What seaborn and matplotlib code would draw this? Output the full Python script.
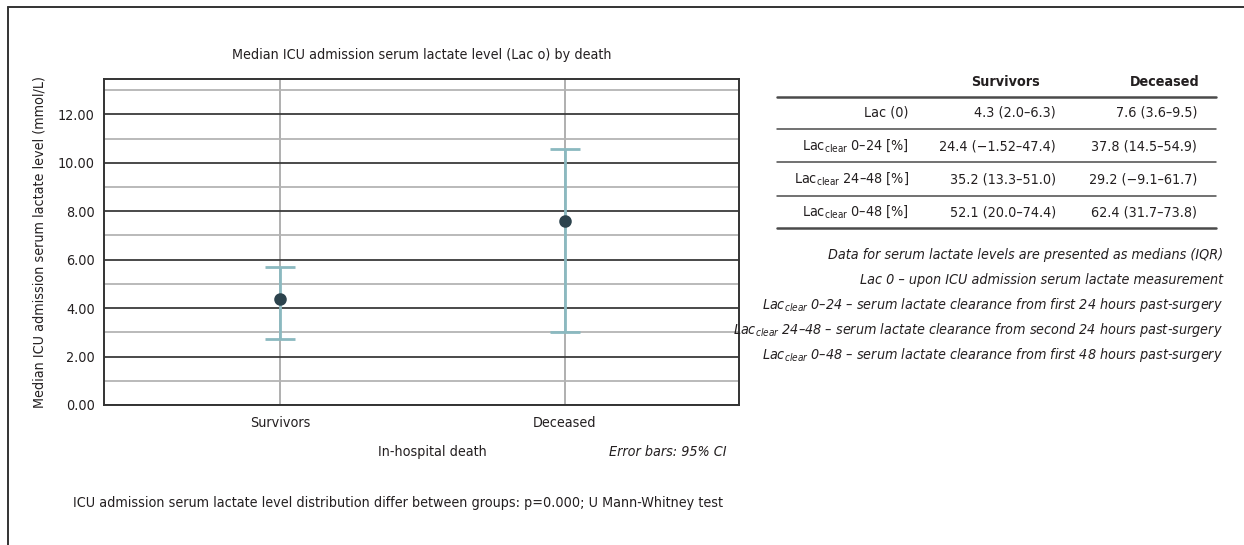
import numpy as np
import pandas as pd
import matplotlib
matplotlib.use("Agg")
import matplotlib.pyplot as plt
from matplotlib import font_manager as fm
from matplotlib.lines import Line2D
from matplotlib.ticker import FixedLocator, MultipleLocator
import seaborn as sns

# ---- data -------------------------------------------------------------
groups = ["Survivors", "Deceased"]
median_lac0 = [4.37, 7.60]
ci_low = [2.73, 3.02]
ci_high = [5.69, 10.58]

ytick_values = [0, 2, 4, 6, 8, 10, 12]
ytick_labels = ["0.00", "2.00", "4.00", "6.00", "8.00", "10.00", "12.00"]

table_header = ["Survivors", "Deceased"]
table_rows = [
    "Lac (0)",
    r"Lac$_{\mathregular{clear}}$ 0–24 [%]",
    r"Lac$_{\mathregular{clear}}$ 24–48 [%]",
    r"Lac$_{\mathregular{clear}}$ 0–48 [%]",
]
survivors_vals = ["4.3 (2.0–6.3)", "24.4 (−1.52–47.4)", "35.2 (13.3–51.0)", "52.1 (20.0–74.4)"]
deceased_vals = ["7.6 (3.6–9.5)", "37.8 (14.5–54.9)", "29.2 (−9.1–61.7)", "62.4 (31.7–73.8)"]

notes = [
    "Data for serum lactate levels are presented as medians (IQR)",
    "Lac 0 – upon ICU admission serum lactate measurement",
    r"Lac$_{\mathit{clear}}$ 0–24 – serum lactate clearance from first 24 hours past-surgery",
    r"Lac$_{\mathit{clear}}$ 24–48 – serum lactate clearance from second 24 hours past-surgery",
    r"Lac$_{\mathit{clear}}$ 0–48 – serum lactate clearance from first 48 hours past-surgery",
]

title = "Median ICU admission serum lactate level (Lac o) by death"
ylabel = "Median ICU admission serum lactate level (mmol/L)"
xlabel = "In-hospital death"
ci_note = "Error bars: 95% CI"
test_note = ("ICU admission serum lactate level distribution differ between groups: "
             "p=0.000; U Mann-Whitney test")

# ---- style ------------------------------------------------------------
sns.set_theme(style="white")

# prefer a narrow sans face; fall back to a regular one
fonts = fm.fontManager.ttflist
names = {f.name for f in fonts}
stretch = "normal"
if "Liberation Sans Narrow" in names:
    family = "Liberation Sans Narrow"
elif any(f.name == "DejaVu Sans" and f.stretch == "condensed" for f in fonts):
    family = "DejaVu Sans"
    stretch = "condensed"
elif "Roboto Condensed" in names:
    family = "Roboto Condensed"
else:
    family = "Roboto"

plt.rcParams["font.family"] = [family, "DejaVu Sans"]
plt.rcParams["font.stretch"] = stretch
plt.rcParams["mathtext.fontset"] = "custom"
plt.rcParams["mathtext.rm"] = family
plt.rcParams["mathtext.it"] = family + ":italic"
plt.rcParams["mathtext.default"] = "regular"

TEXT = "#231f20"
ERR = "#8bb9c0"
DOT = "#2c434d"
MAJOR = "#3a3a3a"
MINOR = "#b4b4b4"
VGRID = "#a9a9a9"

W, H = 1244, 545
fig = plt.figure(figsize=(W / 100, H / 100), dpi=100)

# size the text so the title spans its printed width
probe = fig.text(0, 0, "Median ICU admission serum lactate level (Lac o) by death",
                 fontsize=13)
fig.canvas.draw()
pw = probe.get_window_extent().width
probe.remove()
FS = min(14.0, 13.0 * 379.0 / pw)


def fx(px):
    return px / W


def fy(py):
    return 1 - py / H


ax = fig.add_axes([fx(104.5), fy(405), fx(739) - fx(104.5), fy(79.3) - fy(405)])

df = pd.DataFrame({"group": groups, "median": median_lac0,
                   "low": ci_low, "high": ci_high})
pos = np.arange(len(groups))

# 95% CI whiskers
ax.errorbar(pos, df["median"],
            yerr=[df["median"] - df["low"], df["high"] - df["median"]],
            fmt="none", ecolor=ERR, elinewidth=2.0, capsize=11, capthick=2.0,
            zorder=3)

# medians
sns.pointplot(data=df, x="group", y="median", order=groups, errorbar=None,
              linestyle="none", marker="o", markersize=7, color=DOT, ax=ax)
for ln in ax.lines:
    ln.set_zorder(4)
for coll in ax.collections:
    coll.set_zorder(4)

ax.set_xlim(-0.616, 1.611)
ax.set_ylim(0, 13.45)

ax.yaxis.set_major_locator(FixedLocator(ytick_values))
ax.set_yticklabels(ytick_labels)
ax.yaxis.set_minor_locator(MultipleLocator(1))

ax.set_axisbelow(True)
ax.grid(False)
ax.yaxis.grid(True, which="major", color=MAJOR, linewidth=1.3)
ax.yaxis.grid(True, which="minor", color=MINOR, linewidth=1.3)
ax.xaxis.grid(True, which="major", color=VGRID, linewidth=1.3)

ax.tick_params(axis="both", which="both", length=0, labelsize=FS, colors=TEXT)
ax.tick_params(axis="y", pad=7)
ax.tick_params(axis="x", pad=8)
for sp in ax.spines.values():
    sp.set_color("#333333")
    sp.set_linewidth(1.4)

ax.set_xlabel("")
ax.set_ylabel(ylabel, fontsize=FS, color=TEXT, labelpad=8)

# titles and notes around the plot
fig.text(fx(422), fy(55), title, ha="center", va="center", fontsize=FS, color=TEXT)
fig.text(fx(432), fy(452), xlabel, ha="center", va="center", fontsize=FS, color=TEXT)
fig.text(fx(668), fy(452), ci_note, ha="center", va="center", fontsize=FS,
         color=TEXT, style="italic")
fig.text(fx(398), fy(503), test_note, ha="center", va="center", fontsize=FS, color=TEXT)

# ---- summary table ----------------------------------------------------
label_right, surv_right, dec_right = 909, 1056, 1197
fig.text(fx(1005), fy(82), table_header[0], ha="center", va="center",
         fontsize=FS, color=TEXT, weight="bold")
fig.text(fx(1165), fy(82), table_header[1], ha="center", va="center",
         fontsize=FS, color=TEXT, weight="bold")

row_y = [112, 146, 179, 212]
for yy, lab, sv, dv in zip(row_y, table_rows, survivors_vals, deceased_vals):
    fig.text(fx(label_right), fy(yy), lab, ha="right", va="center",
             fontsize=FS, color=TEXT)
    fig.text(fx(surv_right), fy(yy), sv, ha="right", va="center",
             fontsize=FS, color=TEXT)
    fig.text(fx(dec_right), fy(yy), dv, ha="right", va="center",
             fontsize=FS, color=TEXT)

rule_y = [97, 129, 162, 196, 228]
for i, ry in enumerate(rule_y):
    lw = 1.8 if i in (0, len(rule_y) - 1) else 1.1
    fig.add_artist(Line2D([fx(777), fx(1216)], [fy(ry), fy(ry)],
                          color="#4a4a4a", linewidth=lw))

note_y = [255, 280, 305, 330, 355]
for yy, txt in zip(note_y, notes):
    fig.text(fx(1223), fy(yy), txt, ha="right", va="center",
             fontsize=FS, color=TEXT, style="italic")

# frame around the panel (left and top edges)
fig.add_artist(Line2D([fx(8), fx(8)], [fy(545), fy(7)], color="#333333", linewidth=1.4))
fig.add_artist(Line2D([fx(8), fx(1244)], [fy(7), fy(7)], color="#333333", linewidth=1.4))

fig.savefig("out.png", dpi=100, facecolor="white")
